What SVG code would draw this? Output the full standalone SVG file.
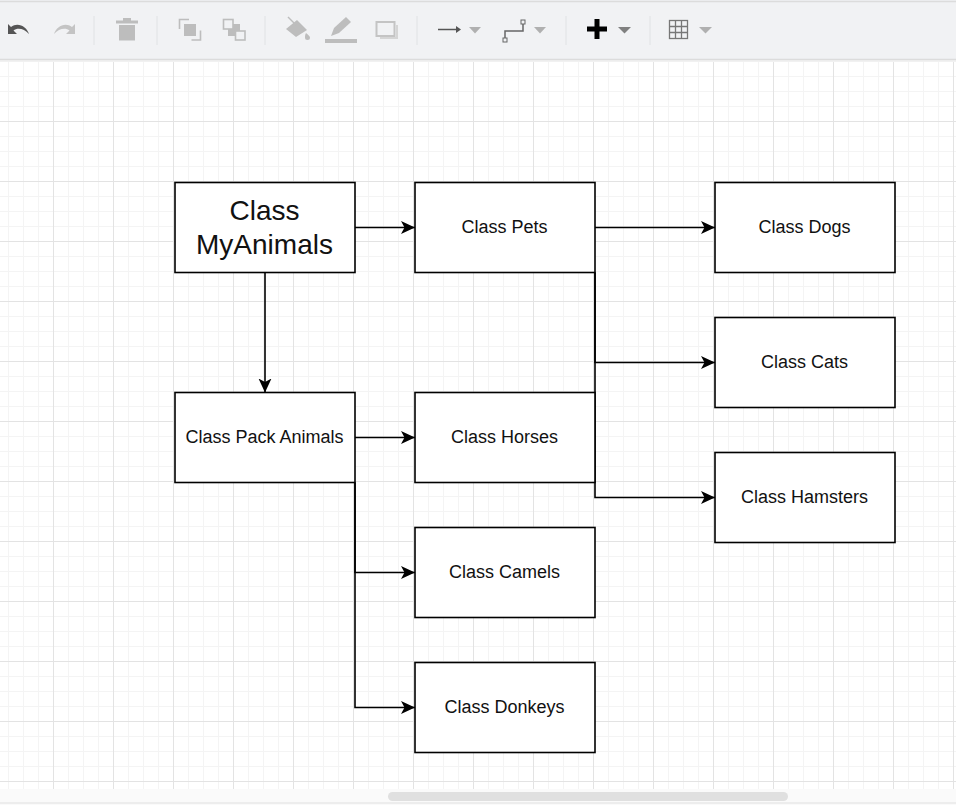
<svg xmlns="http://www.w3.org/2000/svg" width="956" height="805" viewBox="0 0 956 805">
<style>
.n{fill:#fff;stroke:#000;stroke-width:1.6}
.t{font-family:"Liberation Sans",Arial,sans-serif;font-size:18px;fill:#111;text-anchor:middle}
.c{fill:none;stroke:#000;stroke-width:1.6}
.sep{stroke:#e3e4e6;stroke-width:1.2}
.ic{fill:#bdbdbd}
.tri{fill:#b0b0b0}
</style>
<defs>
<marker id="a" markerUnits="userSpaceOnUse" markerWidth="15" markerHeight="15" refX="14" refY="7.500" orient="auto"><path d="M0 1L14 7.500L0 14L3.500 7.500Z" fill="#000"/></marker>
<pattern id="minor" x="8" y="61" width="15" height="15" patternUnits="userSpaceOnUse"><path d="M.5 0V15M0 .5H15" stroke="#f4f4f4" stroke-width="1" fill="none"/></pattern>
<pattern id="major" x="53" y="61" width="60" height="60" patternUnits="userSpaceOnUse"><path d="M.5 0V60M0 .5H60" stroke="#e3e3e3" stroke-width="1" fill="none"/></pattern>
</defs>
<g id="canvas">
<rect width="956" height="805" fill="#fff"/>
<rect x="0" y="62" width="956" height="727" fill="url(#minor)"/>
<rect x="0" y="62" width="956" height="727" fill="url(#major)"/>
<rect x="0" y="789" width="956" height="16" fill="#fafafa"/>
<rect x="388" y="792" width="400" height="9" rx="4.500" fill="#e0e0e0"/>
<path d="M0 803H956" stroke="#e0e0e0" stroke-width="1"/>
</g>
<g id="toolbar">
<rect x="0" y="0" width="956" height="60" fill="#f1f2f4"/>
<path d="M0 1.500H956M0 59.500H956" stroke="#dcdcdc" stroke-width="1.500" fill="none"/>
<path d="M0 61H956" stroke="#e4e4e4" stroke-width="1"/>
<path class="sep" d="M94 16V45M157 16V45M265 16V45M417 16V45M566 16V45M650 16V45"/>
<path d="M8 24V34H17L13.500 30.500C17 27.500 24 28 29 34C27 27 18 21.500 11 27Z" fill="#555"/>
<path d="M75 24V34H66L69.500 30.500C66 27.500 59 28 54 34C56 27 65 21.500 72 27Z" fill="#c4c4c4"/>
<path class="ic" d="M116 20.500H138V23.500H116ZM123 18H131V20.500H123ZM119 25H135V40.500H119Z"/>
<path d="M179.500 29V19.500H189M191.500 40H200.500V30.500" fill="none" stroke="#bdbdbd" stroke-width="1.600"/>
<rect class="ic" x="184" y="24" width="12" height="12"/>
<rect class="ic" x="228" y="24" width="12" height="12"/>
<rect x="223.500" y="19.500" width="9.500" height="9.500" fill="#f1f2f4" stroke="#bdbdbd" stroke-width="1.600"/>
<rect x="235.500" y="31" width="9.500" height="9" fill="#f1f2f4" stroke="#bdbdbd" stroke-width="1.600"/>
<path class="ic" d="M286 29L297 20L307 30L296 37Z"/>
<path d="M288 17L296 25" stroke="#bdbdbd" stroke-width="1.500"/>
<path class="ic" d="M306 33C308 35 310 36 310 37.500A2.500 2.500 0 0 1 305 37.500C305 36 305 35 306 33Z"/>
<path class="ic" d="M331 36L334 28L346 17L351 22L339 33Z"/>
<rect class="ic" x="325" y="39" width="32" height="4"/>
<rect x="376.500" y="22" width="18" height="14" fill="#f1f2f4" stroke="#c4c4c4" stroke-width="2"/>
<path d="M396 25H398V39H380V37H396Z" fill="#d5d5d5"/>
<path d="M438 29.500H459" stroke="#555" stroke-width="1.500"/>
<path d="M456 26L461 29.500L456 33Z" fill="#555"/>
<path class="tri" d="M469 27H481L475 33.500Z"/>
<path d="M505 38V31H523V22" fill="none" stroke="#666" stroke-width="1.500"/>
<rect x="503" y="38" width="4" height="4" fill="#f1f2f4" stroke="#666"/>
<rect x="521" y="20" width="4" height="4" fill="#f1f2f4" stroke="#666"/>
<path class="tri" d="M534 27H546L540 33.500Z"/>
<path d="M587 26.500H594.500V19H599.500V26.500H607V31.500H599.500V39H594.500V31.500H587Z" fill="#000"/>
<path d="M618 27H631L624.500 33.500Z" fill="#808080"/>
<g fill="none" stroke="#777" stroke-width="1.300"><rect x="669.500" y="20.500" width="18" height="18"/><path d="M675.500 20.500V38.500M681.500 20.500V38.500M669.500 26.500H687.500M669.500 32.500H687.500"/></g>
<path class="tri" d="M699 27H712L705.500 33.500Z"/>
</g>
<g id="connectors">
<path class="c" d="M355 227.500H415" marker-end="url(#a)"/>
<path class="c" d="M595 227.500H715" marker-end="url(#a)"/>
<path class="c" d="M595 272.500V362.500H715" marker-end="url(#a)"/>
<path class="c" d="M595 272.500V497.500H715" marker-end="url(#a)"/>
<path class="c" d="M265 272.500V392.500" marker-end="url(#a)"/>
<path class="c" d="M355 437.500H415" marker-end="url(#a)"/>
<path class="c" d="M355 482.500V572.500H415" marker-end="url(#a)"/>
<path class="c" d="M355 482.500V707.500H415" marker-end="url(#a)"/>
</g>
<g id="myanimals"><rect class="n" x="175" y="182.500" width="180" height="90"/><text class="t" style="font-size:28px" x="264.500" y="220">Class</text><text class="t" style="font-size:28px" x="264.500" y="254">MyAnimals</text></g>
<g id="pets"><rect class="n" x="415" y="182.500" width="180" height="90"/><text class="t" x="504.500" y="233">Class Pets</text></g>
<g id="dogs"><rect class="n" x="715" y="182.500" width="180" height="90"/><text class="t" x="804.500" y="233">Class Dogs</text></g>
<g id="cats"><rect class="n" x="715" y="317.500" width="180" height="90"/><text class="t" x="804.500" y="368">Class Cats</text></g>
<g id="hamsters"><rect class="n" x="715" y="452.500" width="180" height="90"/><text class="t" x="804.500" y="503">Class Hamsters</text></g>
<g id="packanimals"><rect class="n" x="175" y="392.500" width="180" height="90"/><text class="t" x="264.500" y="443">Class Pack Animals</text></g>
<g id="horses"><rect class="n" x="415" y="392.500" width="180" height="90"/><text class="t" x="504.500" y="443">Class Horses</text></g>
<g id="camels"><rect class="n" x="415" y="527.500" width="180" height="90"/><text class="t" x="504.500" y="578">Class Camels</text></g>
<g id="donkeys"><rect class="n" x="415" y="662.500" width="180" height="90"/><text class="t" x="504.500" y="713">Class Donkeys</text></g>
</svg>
